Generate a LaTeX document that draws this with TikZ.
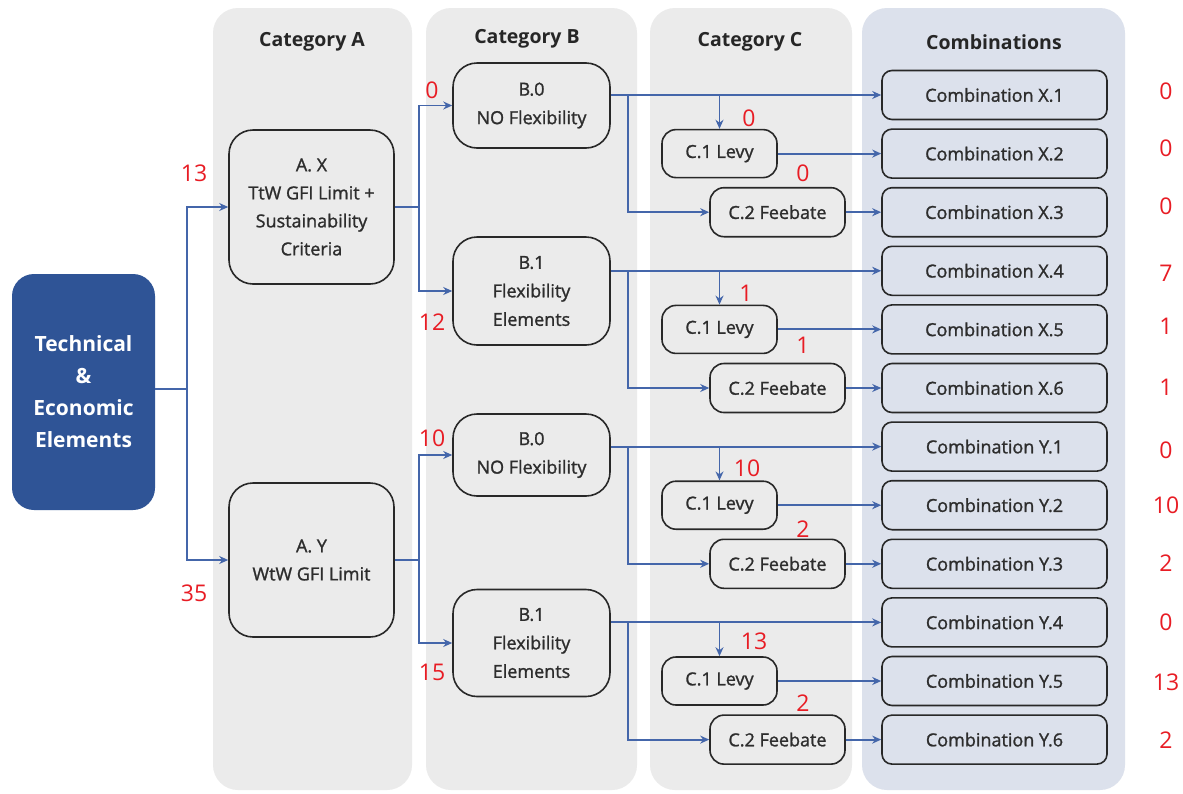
\documentclass[tikz,border=0pt]{standalone}
\usepackage{fontspec}
\setmainfont{Open Sans}
\newfontfamily\medfont[FakeBold=1.3]{Open Sans}
\usetikzlibrary{arrows.meta,calc}
\definecolor{colbg}{RGB}{235,235,235}
\definecolor{combbg}{RGB}{220,225,236}
\definecolor{navy}{RGB}{47,84,150}
\definecolor{linkblue}{RGB}{68,102,170}
\definecolor{numred}{RGB}{232,28,36}
\definecolor{boxline}{RGB}{40,40,40}
\definecolor{txt}{RGB}{45,45,45}
\begin{document}
\begin{tikzpicture}[x=1pt,y=-1pt,
  colfill/.style={fill=colbg, rounded corners=25pt},
  head/.style={font=\bfseries\fontsize{19.5}{21}\selectfont, text=black!85},
  tech/.style={fill=navy, rounded corners=22pt, minimum width=143pt, minimum height=236pt, inner sep=0pt,
     text=white, align=center, font=\bfseries\fontsize{21}{32}\selectfont},
  abox/.style={draw=boxline, line width=1.6pt, rounded corners=24pt, minimum width=165pt, minimum height=154pt,
     inner sep=0pt, align=center, text=txt, font=\medfont\fontsize{18}{28}\selectfont},
  bbox/.style={draw=boxline, line width=1.6pt, rounded corners=24pt, minimum width=157pt,
     inner sep=0pt, align=center, text=txt, font=\medfont\fontsize{18}{28.5}\selectfont},
  levy/.style={draw=boxline, line width=1.6pt, rounded corners=14pt, minimum width=115pt, minimum height=48pt,
     inner sep=0pt, text=txt, font=\medfont\fontsize{18}{19}\selectfont},
  fee/.style={draw=boxline, line width=1.6pt, rounded corners=14pt, minimum width=135pt, minimum height=49pt,
     inner sep=0pt, text=txt, font=\medfont\fontsize{18}{19}\selectfont},
  comb/.style={draw=boxline, line width=1.6pt, rounded corners=10pt, minimum width=225pt, minimum height=49pt,
     inner sep=0pt, text=txt, font=\medfont\fontsize{18}{19}\selectfont},
  num/.style={text=numred, font=\fontsize{23}{24}\selectfont, inner sep=0pt},
  link/.style={draw=linkblue, line width=1.9pt},
  arr/.style={link, -{Stealth[length=9pt,width=8pt]}}
]
\useasboundingbox (0,0) rectangle (1183,793);
\fill[white] (0,0) rectangle (1183,793);
% column backgrounds
\fill[colfill] (213,8) rectangle (412,790);
\fill[colfill] (426,8) rectangle (637,790);
\fill[colfill] (650,8) rectangle (852,790);
\fill[colfill, fill=combbg] (862,8) rectangle (1125,790);
% headers
\node[head] (hA) at (312,42) {Category A};
\node[head] (hB) at (527,39) {Category B};
\node[head] (hC) at (750,42) {Category C};
\node[head] (hD) at (994,42) {Combinations};
% main nodes
\node[tech] (tech) at (83.5,392) {Technical\\\&\\Economic\\Elements};
\node[abox] (AX) at (311.5,207) {A. X\\TtW GFI Limit +\\Sustainability\\Criteria};
\node[abox] (AY) at (311.5,560) {A. Y\\WtW GFI Limit};
\node[bbox, minimum height=85pt] (B0X) at (531.5,105.5) {B.0\\NO Flexibility};
\node[bbox, minimum height=108pt] (B1X) at (531.5,291) {B.1\\Flexibility\\Elements};
\node[bbox, minimum height=82pt] (B0Y) at (531.5,455) {B.0\\NO Flexibility};
\node[bbox, minimum height=107pt] (B1Y) at (531.5,643) {B.1\\Flexibility\\Elements};
\node[levy] (lx1) at (719.5,153.6) {C.1 Levy};
\node[fee]  (fx1) at (777.5,212.2) {C.2 Feebate};
\node[levy] (lx2) at (719.5,329.4) {C.1 Levy};
\node[fee]  (fx2) at (777.5,388) {C.2 Feebate};
\node[levy] (ly1) at (719.5,505.2) {C.1 Levy};
\node[fee]  (fy1) at (777.5,563.8) {C.2 Feebate};
\node[levy] (ly2) at (719.5,681) {C.1 Levy};
\node[fee]  (fy2) at (777.5,739.6) {C.2 Feebate};
\foreach \nm/\lab [count=\i from 0] in {cx1/X.1,cx2/X.2,cx3/X.3,cx4/X.4,cx5/X.5,cx6/X.6,cy1/Y.1,cy2/Y.2,cy3/Y.3,cy4/Y.4,cy5/Y.5,cy6/Y.6}
  \node[comb] (\nm) at (994.5,95+58.6*\i) {Combination \lab};
% connectors: first level
\coordinate (j0) at (187,389);
\draw[link] (tech.east |- j0) -- (j0);
\draw[arr] (j0) |- (AX.west);
\draw[arr] (j0) |- (AY.west);
\coordinate (jAX) at ($(AX.east)+(24,0)$);
\draw[link] (AX.east) -- (jAX);
\draw[arr] (jAX) |- (B0X.west);
\draw[arr] (jAX) |- (B1X.west);
\coordinate (jAY) at ($(AY.east)+(24,0)$);
\draw[link] (AY.east) -- (jAY);
\draw[arr] (jAY) |- (B0Y.west);
\draw[arr] (jAY) |- (B1Y.west);
% B -> C -> combinations
\foreach \B/\L/\F/\ca/\cb/\cc in {B0X/lx1/fx1/cx1/cx2/cx3, B1X/lx2/fx2/cx4/cx5/cx6, B0Y/ly1/fy1/cy1/cy2/cy3, B1Y/ly2/fy2/cy4/cy5/cy6}{
  \draw[arr] (\B.east |- \ca.west) -- (\ca.west);
  \draw[arr] ($(\B.east |- \ca.west)+(17,0)$) |- (\F.west);
  \draw[arr] (\L.north |- \ca.west) -- (\L.north);
  \draw[arr] (\L.east) -- (\L.east -| \cb.west);
  \draw[arr] (\F.east) -- (\F.east -| \cc.west);
}
% red counts
\node[num] (n1) at (194,173) {13};
\node[num] (n2) at (194,593) {35};
\node[num] (n3) at (432,90) {0};
\node[num] (n4) at (432,322) {12};
\node[num] (n5) at (432,438) {10};
\node[num] (n6) at (432,672) {15};
\node[num] (n7) at (749,118) {0};
\node[num] (n8) at (803,173) {0};
\node[num] (n9) at (746,293) {1};
\node[num] (n10) at (803,345) {1};
\node[num] (n11) at (747,468) {10};
\node[num] (n12) at (803,529) {2};
\node[num] (n13) at (754,641) {13};
\node[num] (n14) at (803,703) {2};
\foreach \v/\yy [count=\i] in {0/91,0/148,0/206,7/273,1/326,1/387,0/450,10/505,2/563,0/622,13/682,2/740}
  \node[num] (r\i) at (1166,\yy) {\v};
\end{tikzpicture}
\end{document}
